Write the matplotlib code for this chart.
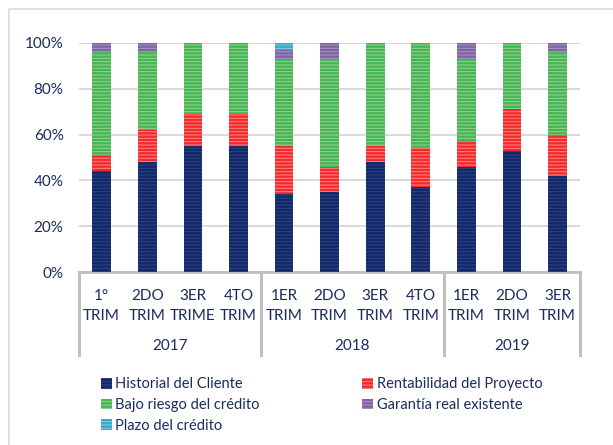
import matplotlib
matplotlib.use("Agg")
import matplotlib.pyplot as plt
import numpy as np

# quarters and years
quarters = ["1°\nTRIM", "2DO\nTRIM", "3ER\nTRIME", "4TO\nTRIM",
            "1ER\nTRIM", "2DO\nTRIM", "3ER\nTRIM", "4TO\nTRIM",
            "1ER\nTRIM", "2DO\nTRIM", "3ER\nTRIM"]
years = ["2017", "2018", "2019"]
year_sizes = [4, 4, 3]

# shares (%) per reason
historial = [44, 48, 55, 55, 34, 35, 48, 37, 46, 53, 42]
rentabilidad = [7, 14, 14, 14, 21, 11, 7, 17, 11, 18, 18]
bajo_riesgo = [45, 34, 31, 31, 38, 47, 45, 46, 36, 29, 36]
garantia = [4, 4, 0, 0, 4, 7, 0, 0, 7, 0, 4]
plazo = [0, 0, 0, 0, 3, 0, 0, 0, 0, 0, 0]

series = [
    ("Historial del Cliente", historial, "#13296A", "#2C4384"),
    ("Rentabilidad del Proyecto", rentabilidad, "#F42A2A", "#FF8585"),
    ("Bajo riesgo del crédito", bajo_riesgo, "#45B452", "#96D494"),
    ("Garantía real existente", garantia, "#7E64A4", "#A994C6"),
    ("Plazo del crédito", plazo, "#3FA6C4", "#86CCE0"),
]

text_color = "#1B2B5E"
plt.rcParams['font.family'] = ['Lato', 'DejaVu Sans']
plt.rcParams['hatch.linewidth'] = 0.7

fig = plt.figure(figsize=(6.13, 4.45), dpi=100)
ax = fig.add_axes([0.1287, 0.388, 0.818, 0.516])

x = np.arange(len(quarters))
bottom = np.zeros(len(quarters))
handles = {}
for name, vals, color, stripe in series:
    vals = np.array(vals, dtype=float)
    b = ax.bar(x, vals, 0.41, bottom=bottom, color=color, edgecolor=stripe,
               linewidth=0, hatch="-----", zorder=3, label=name)
    handles[name] = b
    bottom += vals

ax.set_xlim(-0.5, len(quarters) - 0.5)
ax.set_ylim(0, 100)
ax.set_yticks(np.arange(0, 101, 20))
ax.set_yticklabels([f"{v}%" for v in range(0, 101, 20)])
ax.yaxis.grid(True, color="#D9D9D9", linewidth=1.4, zorder=0)
ax.tick_params(axis="y", length=0, pad=11, labelsize=11, labelcolor=text_color)
ax.set_xticks([])
for s in ["top", "right", "left"]:
    ax.spines[s].set_visible(False)
ax.spines["bottom"].set_color("#BFBFBF")
ax.spines["bottom"].set_linewidth(2)

# multi-level category axis
trans = ax.get_xaxis_transform()
box_bottom = -0.36
edges = np.concatenate([[0], np.cumsum(year_sizes)]) - 0.5
for e in edges:
    ax.plot([e, e], [0, box_bottom], color="#BFBFBF", linewidth=2.2,
            transform=trans, clip_on=False)
for i, q in enumerate(quarters):
    ax.text(i, -0.073, q, transform=trans, ha="center", va="top",
            fontsize=11, color=text_color, linespacing=1.5)
for k, yr in enumerate(years):
    mid = (edges[k] + edges[k + 1]) / 2
    ax.text(mid, -0.322, yr, transform=trans, ha="center", va="center",
            fontsize=11, color=text_color)

order = ["Historial del Cliente", "Bajo riesgo del crédito", "Plazo del crédito",
         "Rentabilidad del Proyecto", "Garantía real existente"]
leg = fig.legend([handles[n] for n in order], order, ncol=2, loc="upper left",
                 bbox_to_anchor=(0.155, 0.165), frameon=False, fontsize=10.5,
                 handlelength=0.75, handleheight=0.75, handletextpad=0.25,
                 columnspacing=7.0, labelspacing=0.45, borderaxespad=0)
for t in leg.get_texts():
    t.set_color(text_color)

# outer chart border
fig.patches.append(plt.Rectangle((9 / 613, -0.1), 1.2, 1 - 9 / 445 + 0.1,
                                 transform=fig.transFigure, fill=False,
                                 edgecolor="#D9D9D9", linewidth=1.2))

fig.savefig("out.png", dpi=100)
